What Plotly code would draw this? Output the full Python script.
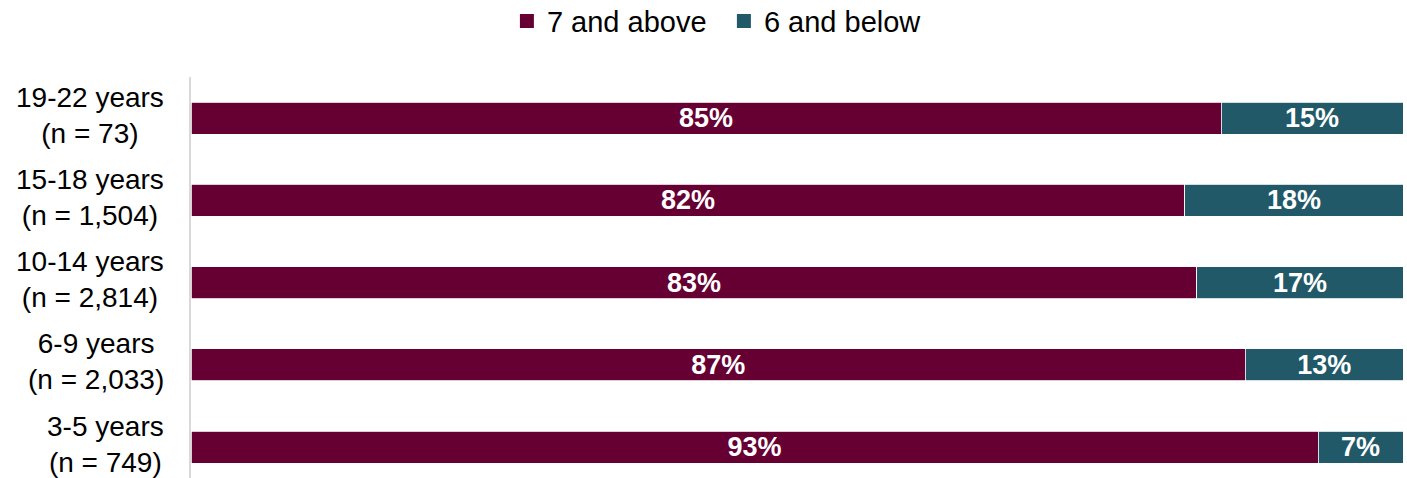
import plotly.graph_objects as go

categories = ["3-5 years<br>(n = 749)", "6-9 years<br>(n = 2,033)", "10-14 years<br>(n = 2,814)",
              "15-18 years<br>(n = 1,504)", "19-22 years<br>(n = 73)"]
above7 = [93, 87, 83, 82, 85]
below6 = [7, 13, 17, 18, 15]
series_names = ["7 and above", "6 and below"]
colors = ["#660033", "#215968"]

FONT = "Liberation Sans, Arial, sans-serif"
ypos = list(range(len(categories)))

fig = go.Figure()
for name, vals, col in zip(series_names, [above7, below6], colors):
    fig.add_trace(go.Bar(
        y=ypos, x=vals, name=name, orientation="h",
        marker=dict(color=col, line=dict(color="white", width=0.8)),
        width=0.39, showlegend=False,
        text=[f"{v}%" for v in vals], textposition="inside",
        insidetextanchor="middle", textangle=0, constraintext="none",
        textfont=dict(family=FONT, size=27, color="white", weight="bold"),
        hoverinfo="skip",
    ))
# legend entries with larger square swatches
for name, col in zip(series_names, colors):
    fig.add_trace(go.Scatter(
        x=[None], y=[None], mode="markers", name=name,
        marker=dict(symbol="square", size=14, color=col),
        hoverinfo="skip",
    ))

for i, lab in enumerate(categories):
    fig.add_annotation(
        x=-0.0206, xref="paper", y=i, yref="y", text=lab, showarrow=False,
        xanchor="right", yanchor="middle", align="center", yshift=3,
        font=dict(family=FONT, size=28, color="black"),
    )

fig.update_layout(
    barmode="stack",
    width=1407, height=478,
    margin=dict(l=191, r=4, t=77, b=0),
    paper_bgcolor="white", plot_bgcolor="white",
    font=dict(family=FONT, size=29, color="black"),
    showlegend=True,
    legend=dict(orientation="h", xref="container", yref="container",
                x=0.5145, xanchor="center", y=0.956, yanchor="middle",
                traceorder="normal", font=dict(family=FONT, size=29, color="black"),
                itemwidth=30, itemsizing="trace", entrywidth=172),
    xaxis=dict(range=[0, 100], showgrid=False, zeroline=False, showticklabels=False,
               showline=False, fixedrange=True),
    yaxis=dict(range=[-0.375, 4.5], showgrid=False, zeroline=False, showticklabels=False,
               showline=True, linecolor="#d9d9d9", linewidth=1.5, ticks="", fixedrange=True),
)

fig.write_html("out.html", config={"displayModeBar": False},
               post_script="document.body.style.margin='0';document.body.style.padding='0';")
